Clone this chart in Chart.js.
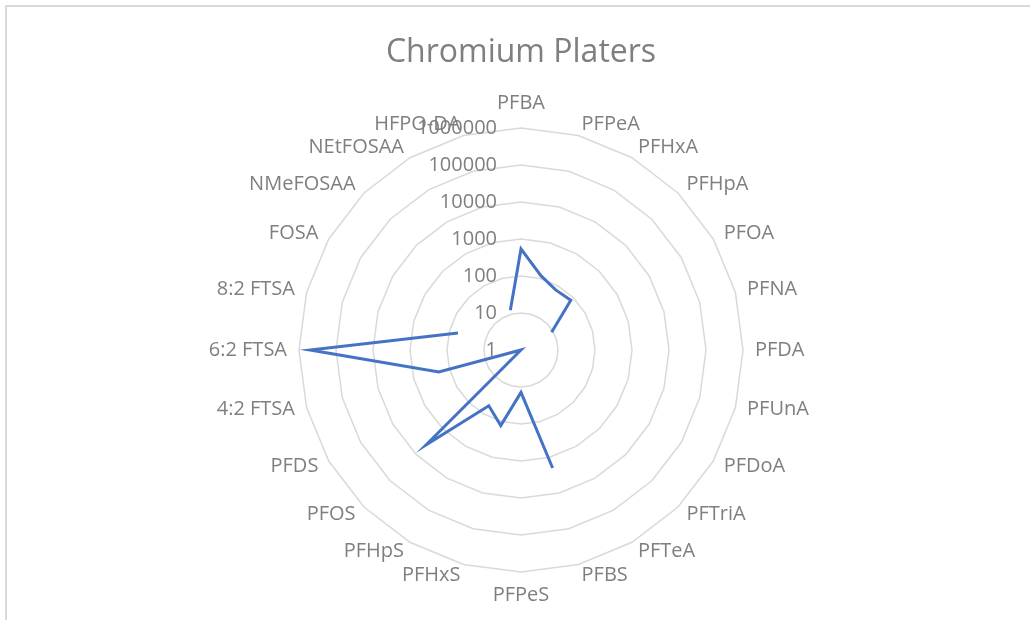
<!DOCTYPE html>
<html>
<head>
<meta charset="utf-8">
<title>Chromium Platers</title>
<script src="https://cdn.jsdelivr.net/npm/chart.js@4.4.0/dist/chart.umd.min.js"></script>
<style>
  html, body { margin: 0; padding: 0; background: #fff; overflow: hidden; }
  #wrap { position: relative; width: 1030px; height: 620px; }
  #frame {
    position: absolute; left: 5px; top: 5px; width: 1100px; height: 700px;
    border-left: 2px solid #d9d9d9; border-top: 2px solid #d9d9d9;
  }
  canvas { position: absolute; left: 0; top: 0; }
</style>
</head>
<body>
<div id="wrap">
  <div id="frame"></div>
  <canvas id="radar-chart" width="1030" height="620"></canvas>
</div>
<script>
// Compounds around the radar (clockwise from the top)
const compounds = [
  "PFBA", "PFPeA", "PFHxA", "PFHpA", "PFOA", "PFNA", "PFDA", "PFUnA",
  "PFDoA", "PFTriA", "PFTeA", "PFBS", "PFPeS", "PFHxS", "PFHpS", "PFOS",
  "PFDS", "4:2 FTSA", "6:2 FTSA", "8:2 FTSA", "FOSA", "NMeFOSAA",
  "NEtFOSAA", "HFPO-DA",
];

// Concentrations (null = not detected / no value)
const concentrations = [
  540, 120, 75, 80, 9, null, null, null,
  null, null, null, 2000, 14, 130, 55, 4200,
  1, 200, 500000, 58, null, null,
  null, 13,
];

// Log axis tick labels
const tickValues = [1, 10, 100, 1000, 10000, 100000, 1000000];

const textColor = "#7f7f7f";
const gridColor = "#d9d9d9";
const lineColor = "#4472c4";
const labelFont = "20px 'Open Sans'";

Chart.defaults.font.family = "'Open Sans', sans-serif";
Chart.defaults.color = textColor;

// radialLinear has no log type, so plot log10 of each value
const logData = concentrations.map((v) => (v === null ? null : Math.log10(v)));

// Excel-style labels: axis numbers left of the vertical axis,
// category names vertically centred on their spoke
const excelLabels = {
  id: "excelLabels",
  afterDraw(chart) {
    const scale = chart.scales.r;
    const ctx = chart.ctx;
    ctx.save();
    ctx.font = labelFont;
    ctx.fillStyle = textColor;
    ctx.textBaseline = "middle";

    ctx.textAlign = "right";
    tickValues.forEach((v) => {
      const d = scale.getDistanceFromCenterForValue(Math.log10(v));
      ctx.fillText(String(v), scale.xCenter - 24, scale.yCenter - d);
    });

    chart.data.labels.forEach((label, i) => {
      const pos = scale.getPointPosition(i, scale.drawingArea + 12);
      const deg = Math.round((i * 360) / chart.data.labels.length);
      let y = pos.y;
      if (deg === 0) {
        ctx.textAlign = "center";
        y -= 13;
      } else if (deg === 180) {
        ctx.textAlign = "center";
        y += 12;
      } else if (deg < 180) {
        ctx.textAlign = "left";
      } else {
        ctx.textAlign = "right";
      }
      if (deg > 90 && deg < 270) y -= 1;
      ctx.fillText(label, pos.x, y);
    });
    ctx.restore();
  },
};

const ctx = document.getElementById("radar-chart").getContext("2d");

new Chart(ctx, {
  type: "radar",
  data: {
    labels: compounds,
    datasets: [
      {
        label: "Chromium Platers",
        data: logData,
        borderColor: lineColor,
        backgroundColor: lineColor,
        borderWidth: 3,
        pointRadius: 0,
        pointHoverRadius: 0,
        fill: false,
        spanGaps: false,
        tension: 0,
      },
    ],
  },
  options: {
    responsive: false,
    animation: false,
    layout: {
      padding: { left: 12, right: 0, top: 0, bottom: 47.5 },
    },
    scales: {
      r: {
        min: 0,
        max: 6,
        ticks: { stepSize: 1, display: false },
        grid: { color: gridColor, lineWidth: 1.5, circular: false },
        angleLines: { display: false },
        pointLabels: { display: false },
      },
    },
    plugins: {
      legend: { display: false },
      tooltip: { enabled: false },
      title: {
        display: true,
        text: "Chromium Platers",
        color: textColor,
        font: { size: 32, weight: "normal" },
        padding: { top: 34, bottom: 55.8 },
      },
    },
  },
  plugins: [excelLabels],
});
</script>
</body>
</html>
